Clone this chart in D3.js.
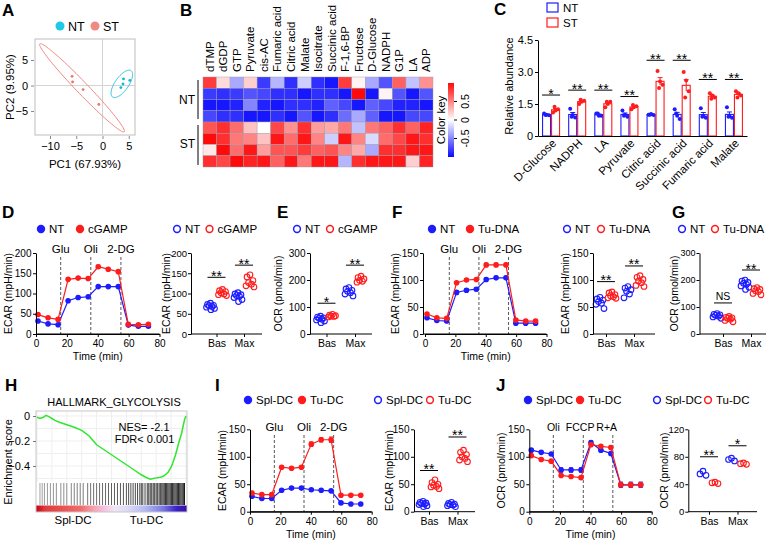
<!DOCTYPE html>
<html><head><meta charset="utf-8">
<script src="https://cdn.jsdelivr.net/npm/d3@7"></script>
<style>body{margin:0;background:#fff}svg{display:block}</style>
</head><body>
<svg id="c" width="768" height="543"></svg>
<script>
// ================= DATA =================
// A: PCA
const pcaNT = [[4.0,1.3],[5.2,1.0],[3.9,0.3],[3.5,-0.4]];
const pcaST = [[-5.8,1.8],[-5.7,0.7],[-3.7,-0.8],[-0.7,-3.7]];
const ellipseNT = {cx:3.68, cy:0.32, a:3.12, b:1.3, angle:56};
const ellipseST = {cx:-3.9, cy:-0.45, a:11.8, b:1.12, angle:-47};
const pcaXTicks = [-10,-5,0,5];
const pcaYTicks = [-5,0,5];

// B: heatmap
const heatCols = ["dTMP","dGDP","GTP","Pyruvate","cis-AC","Fumaric acid","Citric acid","Malate","Isocitrate","Succinic acid","F-1,6-BP","Fructose","D-Glucose","NADPH","G1P","LA","ADP"];
const heatRows = ["NT1","NT2","NT3","NT4","ST1","ST2","ST3","ST4"];
const heatValues = [
 [0.8,0.15,-0.35,0.2,-0.8,-0.3,-0.85,-0.2,-0.85,-0.95,0.8,0.05,-0.35,-0.7,0.65,-0.25,0.45],
 [-0.8,-0.85,-0.8,-0.7,-0.75,-0.85,-0.85,-0.95,-0.85,-0.85,-0.95,1.0,-0.95,0.05,-0.7,-0.95,-0.7],
 [-0.95,-0.95,-0.9,-0.5,-0.9,-0.95,-0.85,-0.85,-0.9,-0.65,-0.75,-0.95,-0.65,-0.75,-0.9,-0.9,-0.95],
 [-0.75,-0.85,-0.85,-0.95,-0.95,-0.85,-0.95,-0.7,-0.95,-0.85,-0.6,-0.35,-0.65,-0.95,-0.95,-0.75,-0.75],
 [0.7,0.85,0.6,0.25,0.0,0.75,0.45,0.85,0.4,0.35,0.55,-0.25,0.55,0.65,0.85,0.65,0.9],
 [1.0,0.85,0.55,0.5,0.25,0.95,0.6,0.95,0.5,-0.2,0.95,0.5,-0.15,0.6,0.75,0.95,0.85],
 [0.1,1.0,0.6,0.95,0.4,0.7,0.7,0.8,0.65,0.7,0.5,0.35,-0.35,0.85,0.85,0.95,0.95],
 [0.85,0.75,1.0,0.9,0.95,0.65,0.95,0.55,0.95,0.95,-0.3,0.85,0.95,0.95,0.95,0.2,0.9]
];
const keyTicks = [-0.5,0,0.5];

// C: relative abundance
const cCats = ["D-Glucose","NADPH","LA","Pyruvate","Citric acid","Succinic acid","Fumaric acid","Malate"];
const cNT = [[1.05,1.0,0.97,0.98],[1.28,0.98,0.87,0.9],[1.05,0.95,0.95,1.05],[1.2,1.0,0.9,0.95],[1.0,1.03,0.98,1.0],[1.25,0.95,0.8,1.05],[1.3,0.95,0.85,0.9],[1.35,0.95,0.85,0.9]];
const cST = [[1.1,1.2,1.25,1.37],[1.5,1.6,1.65,1.7],[1.35,1.5,1.6,1.6],[1.25,1.35,1.4,1.45],[3.05,2.55,2.4,2.25],[3.0,2.6,2.1,1.8],[2.0,1.9,1.8,1.75],[2.1,2.0,1.9,1.8]];
const cSigY = [1.92,2.15,2.15,1.85,3.55,3.55,2.65,2.65];
const cSigLabel = ["*","**","**","**","**","**","**","**"];
const cTicks = [0,1.5,3.0,4.5];

// Seahorse time points
const seaTimes = [1.3,7.8,14.3,20.8,27.3,33.8,40.3,46.8,53.3,59.8,66.3,72.8];
const timeTicks = [0,20,40,60,80];

// D
const ecarD_NT = [32,25,23,82,90,92,117,117,117,22,19,19];
const ecarD_NTerr = [3,2,2,3,3,3,3,3,3,2,2,2];
const ecarD_CG = [48,40,36,135,138,137,166,160,154,24,23,24];
const ecarD_CGerr = [3,2,2,3,3,3,4,3,3,2,2,2];
const evGlyco = [16,35.5,55];
const evGlycoLabels = ["Glu","Oli","2-DG"];
const dBasNT = [76,73,71,70,68,66,63,60], dBasCG = [110,107,105,102,99,97,95];
const dMaxNT = [102,99,97,95,93,90,85,80], dMaxCG = [146,141,132,127,123,119,116];
const dSig = [140,170], dSigLabel = ["**","**"];

// E
const eBasNT = [66,63,60,58,55,52,48,42], eBasCG = [73,70,68,66,65,63];
const eMaxNT = [172,167,162,158,153,148,141], eMaxCG = [214,209,204,199,195,192];
const eSig = [114,255], eSigLabel = ["*","**"];

// F
const ecarF_NT = [30,25,24,77,81,83,101,104,104,20,20,20];
const ecarF_NTerr = [2,2,2,3,3,3,3,3,3,2,2,2];
const ecarF_TD = [37,30,29,95,100,101,128,128,128,26,24,24];
const ecarF_TDerr = [2,2,2,2,2,2,3,3,3,2,2,2];
const fBasNT = [68,65,63,60,57,55,47], fBasTD = [78,76,73,71,69,67,66];
const fMaxNT = [88,85,82,79,74,67], fMaxTD = [108,105,101,98,95,90,88];
const fSig = [97,126], fSigLabel = ["**","**"];

// G
const gBasNT = [76,73,71,69,66,63,58], gBasTD = [65,62,60,58,55,50,45];
const gMaxNT = [200,196,191,188,184,178,173,165], gMaxTD = [172,168,165,160,157,150,145];
const gSig = [115,237], gSigLabel = ["NS","**"];

// H: GSEA
const esRank  = [0,2,4,6,8,10,12,15,20,25,30,35,40,45,50,55,60,65,70,73,76,78,80,83,85,88,90,91,93,95,97,99,100];
const esValue = [-0.01,-0.02,-0.012,0.005,-0.005,-0.02,-0.035,-0.05,-0.07,-0.09,-0.115,-0.16,-0.23,-0.27,-0.31,-0.35,-0.39,-0.43,-0.47,-0.49,-0.505,-0.5,-0.495,-0.49,-0.48,-0.45,-0.41,-0.38,-0.31,-0.22,-0.14,-0.03,0.0];
const esHits = [2,3.5,5,7,9,11,13,16,18,20,23,25,27,29,31,34,36,38,40,42,44,46,48,50,52,54,56,58,60,61.5,63,64.5,66,67.5,69,70,71,72.5,74,75,76,77,78,79,80,81,82,83,83.8,84.6,85.4,86.2,87,87.8,88.6,89.4,90.2,91,91.8,92.6,93.4,94.2,95,95.8,96.6,97.4,98.2,99];
const esTicks = [0,-0.2,-0.4];

// I
const ecarI_Spl = [28,24,24,39,43,43,40,39,38,16,14,14];
const ecarI_Splerr = [2,2,2,2,2,2,2,2,2,2,2,2];
const ecarI_Tu = [34,31,31,81,79,81,123,131,131,30,30,30];
const ecarI_Tuerr = [3,2,2,2,2,2,4,4,5,2,2,2];
const iBasSpl = [19,17,16,15,14,13,11,9], iBasTu = [58,53,50,48,46,45,42];
const iMaxSpl = [17,15,14,13,12,11,9], iMaxTu = [112,108,104,100,97,94,91];
const iSig = [75,136], iSigLabel = ["**","**"];

// J
const ocrJ_Spl = [112,108,105,76,76,76,126,112,106,49,49,49];
const ocrJ_Splerr = [2,2,2,4,4,4,3,3,3,5,5,5];
const ocrJ_Tu = [102,95,92,66,64,62,122,119,117,49,49,49];
const ocrJ_Tuerr = [2,2,2,2,2,2,3,3,3,4,4,4];
const evMito = [15.7,35.3,54.6];
const evMitoLabels = ["Oli","FCCP","R+A"];
const evMitoLabelT = [15.7,33.2,50.6];
const jBasSpl = [59,55,53], jBasTu = [43,42,41];
const jMaxSpl = [78,76,74], jMaxTu = [71,70,69];
const jSig = [80,96], jSigLabel = ["**","*"];

// ================= DRAWING =================
const FONT = '"Liberation Sans", Arial, Helvetica, sans-serif';
const BLUE = "#1c1cff", RED = "#ff1c1c";
const TICK = 10, AXT = 10.5, LEG = 11.5;
const svg = d3.select("#c").attr("font-family", FONT);
svg.append("rect").attr("width",768).attr("height",543).attr("fill","#fff");
const defs = svg.append("defs");

function T(g, x, y, s, o={}) {
  const t = g.append("text").attr("x",x).attr("y",y).text(s)
    .attr("font-size", o.size||12).attr("fill", o.fill||"#000")
    .attr("text-anchor", o.anchor||"start");
  if (o.weight) t.attr("font-weight", o.weight);
  if (o.dy) t.attr("dy", o.dy);
  return t;
}
function RT(g, x, y, s, o={}) {
  return g.append("text").attr("transform",`translate(${x},${y}) rotate(-90)`)
    .attr("text-anchor", o.anchor||"middle").attr("dy", o.dy||"0.35em")
    .attr("font-size", o.size||AXT).attr("fill","#000").text(s);
}
function styleAxis(a, size=TICK, color="#000") {
  a.attr("font-size", size).attr("font-family", FONT);
  a.selectAll("path,line").attr("stroke", color).attr("stroke-width",1);
  a.selectAll("text").attr("fill","#000");
  return a;
}
[["A",2,16],["B",180,16],["C",494,15],["D",2,218],["E",277,218],["F",392,218],["G",672,218],["H",5,391],["I",215,391],["J",496,391]]
  .forEach(([s,x,y]) => T(svg,x,y,s,{size:17,weight:"bold"}));

function legend(items) {
  items.forEach(it => {
    const c = svg.append("circle").attr("cx",it.x).attr("cy",it.y);
    if (it.filled) c.attr("r",4.2).attr("fill",it.color);
    else c.attr("r",3.4).attr("fill","none").attr("stroke",it.color).attr("stroke-width",1.5);
    T(svg, it.x+8, it.y, it.label, {size:LEG, dy:"0.36em"});
  });
}

// ---------- A ----------
(function(){
  const g = svg.append("g");
  const x = d3.scaleLinear().domain([-12.86,6.19]).range([35,135]);
  const y = d3.scaleLinear().domain([-9.7,9.12]).range([135,39]);
  g.append("line").attr("x1",x(0)).attr("x2",x(0)).attr("y1",39).attr("y2",135).attr("stroke","#d4d4d4");
  g.append("line").attr("x1",35).attr("x2",135).attr("y1",y(0)).attr("y2",y(0)).attr("stroke","#d4d4d4");
  g.append("rect").attr("x",35).attr("y",39).attr("width",100).attr("height",96).attr("fill","none").attr("stroke","#c8c8c8").attr("stroke-width",1.2);
  const ell = (e, col) => {
    const a = e.angle*Math.PI/180;
    const pts = d3.range(0,361,4).map(t => {
      const th = t*Math.PI/180;
      const u = e.a*Math.cos(th), v = e.b*Math.sin(th);
      return [x(e.cx + u*Math.cos(a) - v*Math.sin(a)), y(e.cy + u*Math.sin(a) + v*Math.cos(a))];
    });
    g.append("path").attr("d", d3.line()(pts)).attr("fill","none").attr("stroke",col).attr("stroke-width",1);
  };
  ell(ellipseST, "#f08a84"); ell(ellipseNT, "#2cc6e0");
  g.selectAll(".pst").data(pcaST).join("circle").attr("cx",d=>x(d[0])).attr("cy",d=>y(d[1])).attr("r",1.4).attr("fill","#f0706a");
  g.selectAll(".pnt").data(pcaNT).join("circle").attr("cx",d=>x(d[0])).attr("cy",d=>y(d[1])).attr("r",1.4).attr("fill","#10b8d8");
  const ax = g.append("g").attr("transform","translate(0,136)").call(d3.axisBottom(x).tickValues(pcaXTicks).tickSize(3).tickSizeOuter(0));
  ax.select(".domain").remove(); styleAxis(ax, 11, "#888");
  const ay = g.append("g").attr("transform","translate(34,0)").call(d3.axisLeft(y).tickValues(pcaYTicks).tickSize(3).tickSizeOuter(0));
  ay.select(".domain").remove(); styleAxis(ay, 11, "#888");
  T(g, 85, 168, "PC1 (67.93%)", {size:11.5, anchor:"middle"});
  RT(g, 10, 87, "PC2 (9.95%)", {size:11.5});
  g.append("circle").attr("cx",60).attr("cy",26).attr("r",4.5).attr("fill","#1ec8e6");
  T(g, 68, 26, "NT", {size:12.5, dy:"0.36em"});
  g.append("circle").attr("cx",95).attr("cy",26).attr("r",4.5).attr("fill","#f08a84");
  T(g, 103, 26, "ST", {size:12.5, dy:"0.36em"});
})();

// ---------- B ----------
(function(){
  const g = svg.append("g");
  const x = d3.scaleBand().domain(heatCols).range([203,433]);
  const y = d3.scaleBand().domain(heatRows).range([77,167]);
  const col = d3.scaleLinear().domain([-1,0,1]).range(["#0a0aff","#ffffff","#ff0a0a"]).clamp(true);
  heatValues.forEach((row,i) => row.forEach((v,j) => {
    g.append("rect").attr("x",x(heatCols[j])).attr("y",y(heatRows[i])).attr("width",x.bandwidth()).attr("height",y.bandwidth())
      .attr("fill",col(v)).attr("stroke","#9a9aa8").attr("stroke-width",0.4);
  }));
  heatCols.forEach(c => {
    g.append("text").attr("transform",`translate(${x(c)+x.bandwidth()/2},72) rotate(-90)`).attr("dy","0.35em")
      .attr("font-size",11.5).text(c);
  });
  T(g, 195, 100, "NT", {size:12, anchor:"end", dy:"0.35em"});
  T(g, 195, 144, "ST", {size:12, anchor:"end", dy:"0.35em"});
  g.append("line").attr("x1",198).attr("x2",198).attr("y1",80).attr("y2",119).attr("stroke","#000");
  g.append("line").attr("x1",198).attr("x2",198).attr("y1",125).attr("y2",165).attr("stroke","#000");
  const gr = defs.append("linearGradient").attr("id","key").attr("x1",0).attr("y1",1).attr("x2",0).attr("y2",0);
  [-1,-0.5,0,0.5,1].forEach(v => gr.append("stop").attr("offset",(v+1)/2).attr("stop-color",col(v)));
  const ky = d3.scaleLinear().domain([-1,1]).range([157,83]);
  g.append("rect").attr("x",448).attr("y",83).attr("width",6).attr("height",74).attr("fill","url(#key)");
  keyTicks.forEach(t => {
    g.append("line").attr("x1",454).attr("x2",457).attr("y1",ky(t)).attr("y2",ky(t)).attr("stroke","#000");
    g.append("text").attr("transform",`translate(465,${ky(t)}) rotate(-90)`).attr("text-anchor","middle").attr("dy","0.35em").attr("font-size",10.5).text(t);
  });
  RT(g, 441, 120, "Color key", {size:11.5});
})();

// ---------- C ----------
(function(){
  const g = svg.append("g");
  const x = d3.scaleBand().domain(cCats).range([538,747]);
  const y = d3.scaleLinear().domain([0,4.5]).range([136,40]);
  const jit = [-2.5,0,2.5,-1];
  cCats.forEach((c,i) => {
    const cx = x(c) + x.bandwidth()/2;
    [[cNT[i], BLUE, cx-8.5, "#ffffff"], [cST[i], RED, cx+0.5, "#ffffff"]].forEach(([vals,color,bx,fill]) => {
      const m = d3.mean(vals), se = d3.deviation(vals)/Math.sqrt(vals.length);
      g.append("rect").attr("x",bx).attr("y",y(m)).attr("width",8).attr("height",y(0)-y(m)).attr("fill",fill).attr("stroke",color).attr("stroke-width",1.1);
      const mx = bx+4;
      g.append("line").attr("x1",mx).attr("x2",mx).attr("y1",y(m+se)).attr("y2",y(m-se)).attr("stroke",color);
      g.append("line").attr("x1",mx-2.5).attr("x2",mx+2.5).attr("y1",y(m+se)).attr("y2",y(m+se)).attr("stroke",color);
      vals.forEach((v,k) => g.append("circle").attr("cx",mx+jit[k]).attr("cy",y(v)).attr("r",2).attr("fill",color));
    });
    g.append("line").attr("x1",cx-9).attr("x2",cx+9).attr("y1",y(cSigY[i])).attr("y2",y(cSigY[i])).attr("stroke","#000");
    T(g, cx, y(cSigY[i])+3.5, cSigLabel[i], {size:14, anchor:"middle"});
    g.append("text").attr("transform",`translate(${cx+3},141) rotate(-45)`).attr("text-anchor","end").attr("dy","0.35em").attr("font-size",11.5).text(c);
  });
  const ay = g.append("g").attr("transform","translate(538,0)").call(d3.axisLeft(y).tickValues(cTicks).tickFormat(d => d===0?"0":d3.format(".1f")(d)).tickSize(3).tickPadding(2).tickSizeOuter(0));
  styleAxis(ay, 11);
  const ax = g.append("g").attr("transform","translate(0,136)").call(d3.axisBottom(x).tickSize(0).tickFormat(""));
  styleAxis(ax);
  RT(g, 509, 86, "Relative abundance", {size:11});
  g.append("rect").attr("x",547).attr("y",3).attr("width",11).attr("height",9).attr("fill","#fff").attr("stroke",BLUE).attr("stroke-width",1.2);
  T(g, 563, 8, "NT", {size:LEG, dy:"0.36em"});
  g.append("rect").attr("x",547).attr("y",18).attr("width",11).attr("height",9).attr("fill","#fff").attr("stroke",RED).attr("stroke-width",1.2);
  T(g, 563, 23, "ST", {size:LEG, dy:"0.36em"});
})();

// ---------- Seahorse line charts ----------
function seahorse(c) {
  const g = svg.append("g");
  const x = d3.scaleLinear().domain([0,80]).range([c.x0,c.x1]);
  const y = d3.scaleLinear().domain([0,c.yMax]).range([c.bottom,c.top]);
  c.events.forEach((e,i) => {
    g.append("line").attr("x1",x(e)).attr("x2",x(e)).attr("y1",c.dashTop).attr("y2",c.bottom)
      .attr("stroke","#444").attr("stroke-dasharray","3,2").attr("stroke-width",0.9);
    T(g, x(c.labelT ? c.labelT[i] : e), c.labelY, c.labels[i], {size:c.labelSize||LEG, anchor:"middle"});
  });
  c.series.forEach(s => {
    seaTimes.forEach((t,k) => {
      if (s.err[k] > 0) {
        g.append("line").attr("x1",x(t)).attr("x2",x(t)).attr("y1",y(s.vals[k]+s.err[k])).attr("y2",y(s.vals[k]-s.err[k])).attr("stroke",s.color);
        [s.vals[k]+s.err[k], s.vals[k]-s.err[k]].forEach(v => g.append("line").attr("x1",x(t)-2).attr("x2",x(t)+2).attr("y1",y(v)).attr("y2",y(v)).attr("stroke",s.color));
      }
    });
    g.append("path").attr("d", d3.line().x((d,k)=>x(seaTimes[k])).y(d=>y(d))(s.vals)).attr("fill","none").attr("stroke",s.color).attr("stroke-width",1.2);
    g.selectAll(null).data(s.vals).join("circle").attr("cx",(d,k)=>x(seaTimes[k])).attr("cy",d=>y(d)).attr("r",2.8).attr("fill",s.color);
  });
  g.append("line").attr("x1",c.yAxisX).attr("x2",c.x1).attr("y1",c.bottom).attr("y2",c.bottom).attr("stroke","#000");
  const ax = g.append("g").attr("transform",`translate(0,${c.bottom})`).call(d3.axisBottom(x).tickValues(timeTicks).tickSize(3).tickSizeOuter(0));
  styleAxis(ax);
  const ay = g.append("g").attr("transform",`translate(${c.yAxisX},0)`).call(d3.axisLeft(y).tickValues(c.yTicks).tickSize(3).tickPadding(1.5).tickSizeOuter(0));
  styleAxis(ay);
  T(g, (c.x0+c.x1)/2, c.bottom+26, "Time (min)", {size:AXT, anchor:"middle"});
  RT(g, c.ylabelX, (c.bottom+c.top)/2, c.ylabel);
}

function scatter(c) {
  const g = svg.append("g");
  const x = d3.scalePoint().domain(["Bas","Max"]).range([c.bas,c.max]);
  const y = d3.scaleLinear().domain([0,c.yMax]).range([c.bottom,c.top]);
  const pat = [0,-3,3,-1.5,1.5,-4,4,0.5];
  c.groups.forEach((grp,gi) => {
    const cat = gi===0 ? "Bas" : "Max";
    grp.forEach((vals,si) => {
      const off = si===0 ? -6 : 6;
      const col = si===0 ? BLUE : RED;
      vals.forEach((v,k) => g.append("circle").attr("cx",x(cat)+off+pat[k]).attr("cy",y(v)).attr("r",2.8)
        .attr("fill","none").attr("stroke",col).attr("stroke-width",1.1));
    });
    const sy = y(c.sig[gi]);
    g.append("line").attr("x1",x(cat)-9).attr("x2",x(cat)+9).attr("y1",sy).attr("y2",sy).attr("stroke","#000");
    if (c.sigLabel[gi] === "NS") T(g, x(cat), sy-3, "NS", {size:10.5, anchor:"middle"});
    else T(g, x(cat), sy+3.5, c.sigLabel[gi], {size:14, anchor:"middle"});
  });
  g.append("line").attr("x1",c.axisX).attr("x2",c.endX).attr("y1",c.bottom).attr("y2",c.bottom).attr("stroke","#000");
  const ax = g.append("g").attr("transform",`translate(0,${c.bottom})`).call(d3.axisBottom(x).tickSize(3).tickSizeOuter(0));
  ax.select(".domain").remove(); styleAxis(ax, AXT);
  const ay = g.append("g").attr("transform",`translate(${c.axisX},0)`).call(d3.axisLeft(y).tickValues(c.yTicks).tickSize(3).tickPadding(c.tickPad||1.5).tickSizeOuter(0));
  styleAxis(ay, c.tickFont||TICK);
  RT(g, c.ylabelX, (c.bottom+c.top)/2, c.ylabel);
}

// D
seahorse({x0:36,x1:159.5,yAxisX:36,bottom:334,top:253,yMax:200,yTicks:[0,50,100,150,200],
  events:evGlyco,labels:evGlycoLabels,labelY:253,dashTop:257,ylabel:"ECAR (mpH/min)",ylabelX:8.5,
  series:[{vals:ecarD_NT,err:ecarD_NTerr,color:BLUE},{vals:ecarD_CG,err:ecarD_CGerr,color:RED}]});
scatter({axisX:191,endX:262,bas:216.5,max:244,bottom:334,top:253,yMax:200,yTicks:[0,50,100,150,200],tickFont:9.5,tickPad:1,
  groups:[[dBasNT,dBasCG],[dMaxNT,dMaxCG]],sig:dSig,sigLabel:dSigLabel,ylabel:"ECAR (mpH/min)",ylabelX:166.5});
legend([{x:41,y:229,color:BLUE,filled:true,label:"NT"},{x:80,y:229,color:RED,filled:true,label:"cGAMP"},
        {x:177,y:229,color:BLUE,label:"NT"},{x:209.5,y:229,color:RED,label:"cGAMP"}]);
// E
scatter({axisX:310,endX:372,bas:326.5,max:355,bottom:334,top:253,yMax:300,yTicks:[0,100,200,300],
  groups:[[eBasNT,eBasCG],[eMaxNT,eMaxCG]],sig:eSig,sigLabel:eSigLabel,ylabel:"OCR (pmol/min)",ylabelX:278});
legend([{x:297,y:229,color:BLUE,label:"NT"},{x:330,y:229,color:RED,label:"cGAMP"}]);
// F
seahorse({x0:425,x1:546.5,yAxisX:423,bottom:334,top:253,yMax:150,yTicks:[0,50,100,150],
  events:evGlyco,labels:evGlycoLabels,labelY:253,dashTop:257,ylabel:"ECAR (mpH/min)",ylabelX:395.5,
  series:[{vals:ecarF_NT,err:ecarF_NTerr,color:BLUE},{vals:ecarF_TD,err:ecarF_TDerr,color:RED}]});
scatter({axisX:593,endX:655,bas:606,max:634,bottom:334,top:253,yMax:150,yTicks:[0,50,100,150],
  groups:[[fBasNT,fBasTD],[fMaxNT,fMaxTD]],sig:fSig,sigLabel:fSigLabel,ylabel:"ECAR (mpH/min)",ylabelX:565});
legend([{x:432,y:229,color:BLUE,filled:true,label:"NT"},{x:470,y:229,color:RED,filled:true,label:"Tu-DNA"},
        {x:567,y:229,color:BLUE,label:"NT"},{x:601,y:229,color:RED,label:"Tu-DNA"}]);
// G
scatter({axisX:699.5,endX:766,bas:723,max:751,bottom:334,top:253,yMax:300,yTicks:[0,100,200,300],tickFont:9,tickPad:1,
  groups:[[gBasNT,gBasTD],[gMaxNT,gMaxTD]],sig:gSig,sigLabel:gSigLabel,ylabel:"OCR (pmol/min)",ylabelX:674});
legend([{x:682,y:229,color:BLUE,label:"NT"},{x:715,y:229,color:RED,label:"Tu-DNA"}]);

// ---------- H ----------
(function(){
  const g = svg.append("g");
  const x = d3.scaleLinear().domain([0,100]).range([37,186]);
  const y = d3.scaleLinear().domain([0,-0.4]).range([416,466]);
  g.append("rect").attr("x",36).attr("y",411).attr("width",151).attr("height",101).attr("fill","#fff");
  d3.range(0,101,10).forEach(r => g.append("line").attr("x1",x(r)).attr("x2",x(r)).attr("y1",411).attr("y2",482).attr("stroke","#efefef"));
  [0.0,-0.1,-0.2,-0.3,-0.4,-0.5].forEach(v => g.append("line").attr("x1",36).attr("x2",187).attr("y1",y(v)).attr("y2",y(v)).attr("stroke","#efefef"));
  esHits.forEach(h => g.append("line").attr("x1",x(h)).attr("x2",x(h)).attr("y1",483).attr("y2",505)
    .attr("stroke","#000").attr("stroke-width",0.9).attr("stroke-opacity",0.4+0.6*h/100));
  const gr = defs.append("linearGradient").attr("id","rank");
  [[0,"#c4001a"],[0.06,"#e23a3a"],[0.3,"#ef6d6d"],[0.38,"#f5a3ad"],[0.45,"#f4c0dd"],[0.52,"#efe6f3"],[0.6,"#dcdcf6"],[0.72,"#b4baf0"],[0.84,"#7a78e4"],[0.93,"#3a22c8"],[1,"#3412a0"]]
    .forEach(([o,c]) => gr.append("stop").attr("offset",o).attr("stop-color",c));
  g.append("rect").attr("x",36).attr("y",505.5).attr("width",151).attr("height",6.5).attr("fill","url(#rank)");
  g.append("rect").attr("x",36).attr("y",411).attr("width",151).attr("height",101).attr("fill","none").attr("stroke","#c8c8c8");
  g.append("path").attr("d", d3.line().x((d,i)=>x(esRank[i])).y(d=>y(d))(esValue)).attr("fill","none").attr("stroke","#2ee62e").attr("stroke-width",1.5);
  const ay = g.append("g").attr("transform","translate(36,0)").call(d3.axisLeft(y).tickValues(esTicks).tickFormat(d => d===0?"0":d3.format(".1f")(d)).tickSize(3).tickSizeOuter(0));
  ay.select(".domain").remove(); styleAxis(ay, 11, "#777");
  T(g, 114, 406, "HALLMARK_GLYCOLYSIS", {size:11, anchor:"middle"});
  T(g, 144, 431, "NES= -2.1", {size:11, anchor:"middle"});
  T(g, 144.5, 443, "FDR< 0.001", {size:11, anchor:"middle"});
  T(g, 73, 524, "Spl-DC", {size:11.5, anchor:"middle"});
  T(g, 146.5, 524, "Tu-DC", {size:11.5, anchor:"middle"});
  RT(g, 8, 462, "Enrichment score", {size:11});
})();

// ---------- I ----------
seahorse({x0:250,x1:371.7,yAxisX:250,bottom:511.7,top:429.3,yMax:150,yTicks:[0,50,100,150],
  events:evGlyco,labels:evGlycoLabels,labelY:431,dashTop:435,ylabel:"ECAR (mpH/min)",ylabelX:222,
  series:[{vals:ecarI_Spl,err:ecarI_Splerr,color:BLUE},{vals:ecarI_Tu,err:ecarI_Tuerr,color:RED}]});
scatter({axisX:414,endX:475,bas:429,max:457.5,bottom:511.7,top:429.3,yMax:150,yTicks:[0,50,100,150],
  groups:[[iBasSpl,iBasTu],[iMaxSpl,iMaxTu]],sig:iSig,sigLabel:iSigLabel,ylabel:"ECAR (mpH/min)",ylabelX:389});
legend([{x:248,y:400,color:BLUE,filled:true,label:"Spl-DC"},{x:302,y:400,color:RED,filled:true,label:"Tu-DC"},
        {x:378,y:400,color:BLUE,label:"Spl-DC"},{x:430,y:400,color:RED,label:"Tu-DC"}]);
// ---------- J ----------
seahorse({x0:529.3,x1:651.7,yAxisX:529.3,bottom:511.7,top:429.3,yMax:150,yTicks:[0,50,100,150],
  events:evMito,labels:evMitoLabels,labelT:evMitoLabelT,labelSize:10.5,labelY:431,dashTop:435,ylabel:"OCR (pmol/min)",ylabelX:501,
  series:[{vals:ocrJ_Spl,err:ocrJ_Splerr,color:BLUE},{vals:ocrJ_Tu,err:ocrJ_Tuerr,color:RED}]});
scatter({axisX:688.3,endX:757,bas:709,max:737.5,bottom:511.7,top:429.3,yMax:120,yTicks:[0,40,80,120],tickFont:9.5,tickPad:1,
  groups:[[jBasSpl,jBasTu],[jMaxSpl,jMaxTu]],sig:jSig,sigLabel:jSigLabel,ylabel:"OCR (pmol/min)",ylabelX:664});
legend([{x:528,y:400,color:BLUE,filled:true,label:"Spl-DC"},{x:580,y:400,color:RED,filled:true,label:"Tu-DC"},
        {x:657,y:400,color:BLUE,label:"Spl-DC"},{x:708,y:400,color:RED,label:"Tu-DC"}]);
</script>
</body></html>
